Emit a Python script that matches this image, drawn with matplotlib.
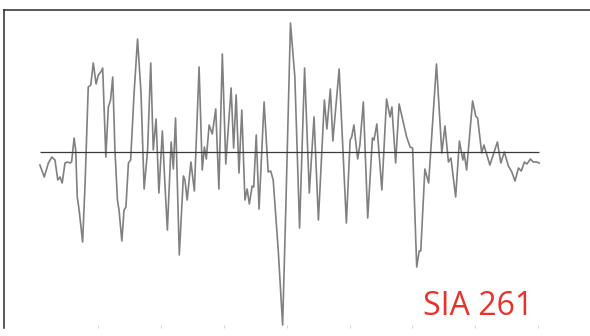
import matplotlib
matplotlib.use("Agg")
import matplotlib.pyplot as plt

# ground acceleration record (time in s, acceleration, arbitrary units)
time = [0.14, 0.28, 0.41, 0.52, 0.62, 0.71, 0.78, 0.85, 0.94, 1.01,
        1.10, 1.15, 1.23, 1.28, 1.33, 1.39, 1.50, 1.58, 1.68, 1.76,
        1.84, 1.93, 2.00, 2.08, 2.14, 2.24, 2.32, 2.39, 2.46, 2.53,
        2.61, 2.66, 2.75, 2.82, 2.88, 2.96, 3.03, 3.14, 3.25, 3.36,
        3.46, 3.57, 3.67, 3.75, 3.84, 3.93, 4.04, 4.12, 4.20, 4.32,
        4.39, 4.46, 4.58, 4.71, 4.76, 4.83, 4.95, 5.06, 5.21, 5.31,
        5.38, 5.44, 5.53, 5.63, 5.74, 5.84, 5.95, 6.06, 6.23, 6.31,
        6.39, 6.48, 6.57, 6.67, 6.74, 6.81, 6.90, 6.95, 7.03, 7.12,
        7.28, 7.41, 7.49, 7.57, 7.73, 7.87, 7.97, 8.12, 8.26, 8.41,
        8.57, 8.72, 8.87, 9.01, 9.20, 9.28, 9.39, 9.47, 9.67, 9.90,
        10.02, 10.07, 10.14, 10.26, 10.33, 10.44, 10.58, 10.73, 10.78, 10.87,
        11.03, 11.18, 11.29, 11.35, 11.47, 11.58, 11.72, 11.82, 11.93, 12.01,
        12.14, 12.22, 12.27, 12.40, 12.52, 12.77, 12.94, 13.04, 13.15, 13.23,
        13.38, 13.50, 13.61, 13.65, 13.73, 13.92, 14.02, 14.08, 14.21, 14.28,
        14.47, 14.71, 14.82, 14.93, 15.06, 15.17, 15.27, 15.38, 15.47, 15.57,
        15.65, 15.76, 15.85, 15.96, 16.04]

accel = [-0.13, -0.25, -0.11, -0.05, -0.08, -0.28, -0.25, -0.31, -0.11, -0.10,
         -0.11, -0.10, 0.14, 0.02, -0.45, -0.58, -0.90, -0.31, 0.65, 0.67,
         0.89, 0.68, 0.77, 0.80, 0.84, -0.05, 0.45, 0.52, 0.75, 0.02,
         -0.48, -0.58, -0.89, -0.58, -0.55, -0.11, -0.08, 0.59, 1.13, 0.59,
         -0.37, 0.02, 0.89, 0.02, 0.33, -0.41, 0.21, -0.31, -0.78, 0.10,
         -0.17, 0.34, -1.03, -0.24, -0.28, -0.48, -0.10, -0.39, 0.85, -0.18,
         0.05, -0.07, 0.27, 0.18, 0.43, -0.37, 0.98, -0.12, 0.64, 0.04,
         0.57, -0.21, 0.42, -0.48, -0.37, -0.52, -0.34, -0.35, 0.17, -0.57,
         0.50, -0.20, -0.19, -0.28, -0.98, -1.73, -0.58, 1.29, 0.75, -0.76,
         0.84, -0.41, 0.35, -0.68, 0.52, 0.23, 0.63, 0.11, 0.83, -0.71,
         0.12, 0.15, 0.27, -0.07, 0.07, 0.50, -0.66, 0.14, 0.12, 0.28,
         -0.38, 0.53, 0.35, 0.45, -0.11, 0.48, 0.29, 0.15, 0.05, 0.04,
         -1.15, -0.99, -0.99, -0.17, -0.31, 0.88, -0.01, 0.26, -0.10, -0.06,
         -0.45, 0.11, -0.08, -0.01, -0.18, 0.51, 0.36, 0.34, -0.01, 0.07,
         -0.13, 0.10, -0.11, 0.00, -0.14, -0.20, -0.29, -0.16, -0.19, -0.10,
         -0.12, -0.07, -0.10, -0.10, -0.11]

tick_times = [2, 4, 6, 8, 10, 12, 14, 16]
label = "SIA 261"

fig = plt.figure(figsize=(5.9, 3.36), dpi=100)
ax = fig.add_axes([4 / 590, 8 / 336, 586 / 590, 318 / 336])

# waveform and zero line
ax.plot(time, accel, color="#808080", linewidth=1.2, solid_joinstyle="round",
        clip_on=False)
ax.hlines(0, time[0], time[-1], color="#3a3a3a", linewidth=0.9)

ax.set_xlim(-1.003, 17.659)
ax.set_ylim(-1.76, 1.42)

# frame: only left and top lines are visible
ax.spines["right"].set_visible(False)
ax.spines["bottom"].set_visible(False)
ax.spines["left"].set_color("#2b2b2b")
ax.spines["top"].set_color("#2b2b2b")
ax.spines["left"].set_linewidth(1.1)
ax.spines["top"].set_linewidth(1.1)

ax.set_xticks(tick_times)
ax.set_xticklabels([])
ax.set_yticks([])
ax.tick_params(axis="x", direction="in", length=2, width=0.8, color="#d8d8d8")

fig.text(423 / 590, 21 / 336, label, color="#e8312a", fontsize=23,
         family="Open Sans", ha="left", va="baseline")

fig.savefig("out.png", dpi=100)
